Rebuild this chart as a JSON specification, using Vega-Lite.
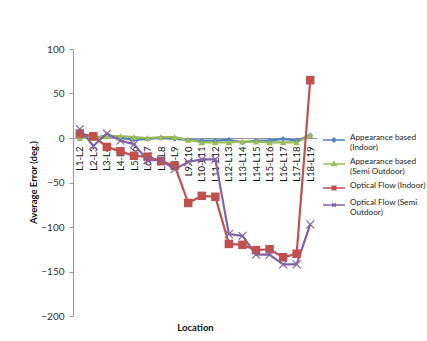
{
  "$schema": "https://vega.github.io/schema/vega-lite/v6.json",
  "autosize": "none",
  "width": 244,
  "height": 267,
  "padding": {"left": 73, "top": 49, "right": 110, "bottom": 25},
  "background": "white",
  "config": {
    "view": {"stroke": null},
    "font": "Lato",
    "axis": {"labelFont": "Lato", "titleFont": "Lato", "labelColor": "#222", "titleColor": "#111"}
  },
  "data": {"values": [
    {"loc":"L1-L2","series":"Appearance based (Indoor)","value":2},
    {"loc":"L2-L3","series":"Appearance based (Indoor)","value":0},
    {"loc":"L3-L4","series":"Appearance based (Indoor)","value":3},
    {"loc":"L4-L5","series":"Appearance based (Indoor)","value":0},
    {"loc":"L5-L6","series":"Appearance based (Indoor)","value":-2},
    {"loc":"L6-L7","series":"Appearance based (Indoor)","value":-1},
    {"loc":"L7-L8","series":"Appearance based (Indoor)","value":0},
    {"loc":"L8-L9","series":"Appearance based (Indoor)","value":-1},
    {"loc":"L9-L10","series":"Appearance based (Indoor)","value":-2},
    {"loc":"L10-L11","series":"Appearance based (Indoor)","value":-3},
    {"loc":"L11-L12","series":"Appearance based (Indoor)","value":-3},
    {"loc":"L12-L13","series":"Appearance based (Indoor)","value":-2},
    {"loc":"L13-L14","series":"Appearance based (Indoor)","value":-5},
    {"loc":"L14-L15","series":"Appearance based (Indoor)","value":-3},
    {"loc":"L15-L16","series":"Appearance based (Indoor)","value":-3},
    {"loc":"L16-L17","series":"Appearance based (Indoor)","value":-1},
    {"loc":"L17-L18","series":"Appearance based (Indoor)","value":-3},
    {"loc":"L18-L19","series":"Appearance based (Indoor)","value":3},
    {"loc":"L1-L2","series":"Appearance based (Semi Outdoor)","value":0},
    {"loc":"L2-L3","series":"Appearance based (Semi Outdoor)","value":0},
    {"loc":"L3-L4","series":"Appearance based (Semi Outdoor)","value":2},
    {"loc":"L4-L5","series":"Appearance based (Semi Outdoor)","value":2},
    {"loc":"L5-L6","series":"Appearance based (Semi Outdoor)","value":1},
    {"loc":"L6-L7","series":"Appearance based (Semi Outdoor)","value":0},
    {"loc":"L7-L8","series":"Appearance based (Semi Outdoor)","value":1},
    {"loc":"L8-L9","series":"Appearance based (Semi Outdoor)","value":1},
    {"loc":"L9-L10","series":"Appearance based (Semi Outdoor)","value":-2},
    {"loc":"L10-L11","series":"Appearance based (Semi Outdoor)","value":-5},
    {"loc":"L11-L12","series":"Appearance based (Semi Outdoor)","value":-5},
    {"loc":"L12-L13","series":"Appearance based (Semi Outdoor)","value":-5},
    {"loc":"L13-L14","series":"Appearance based (Semi Outdoor)","value":-4},
    {"loc":"L14-L15","series":"Appearance based (Semi Outdoor)","value":-4},
    {"loc":"L15-L16","series":"Appearance based (Semi Outdoor)","value":-5},
    {"loc":"L16-L17","series":"Appearance based (Semi Outdoor)","value":-5},
    {"loc":"L17-L18","series":"Appearance based (Semi Outdoor)","value":-5},
    {"loc":"L18-L19","series":"Appearance based (Semi Outdoor)","value":3},
    {"loc":"L1-L2","series":"Optical Flow (Indoor)","value":5},
    {"loc":"L2-L3","series":"Optical Flow (Indoor)","value":2},
    {"loc":"L3-L4","series":"Optical Flow (Indoor)","value":-10},
    {"loc":"L4-L5","series":"Optical Flow (Indoor)","value":-15},
    {"loc":"L5-L6","series":"Optical Flow (Indoor)","value":-20},
    {"loc":"L6-L7","series":"Optical Flow (Indoor)","value":-21},
    {"loc":"L7-L8","series":"Optical Flow (Indoor)","value":-26},
    {"loc":"L8-L9","series":"Optical Flow (Indoor)","value":-31},
    {"loc":"L9-L10","series":"Optical Flow (Indoor)","value":-73},
    {"loc":"L10-L11","series":"Optical Flow (Indoor)","value":-65},
    {"loc":"L11-L12","series":"Optical Flow (Indoor)","value":-66},
    {"loc":"L12-L13","series":"Optical Flow (Indoor)","value":-119},
    {"loc":"L13-L14","series":"Optical Flow (Indoor)","value":-120},
    {"loc":"L14-L15","series":"Optical Flow (Indoor)","value":-126},
    {"loc":"L15-L16","series":"Optical Flow (Indoor)","value":-125},
    {"loc":"L16-L17","series":"Optical Flow (Indoor)","value":-134},
    {"loc":"L17-L18","series":"Optical Flow (Indoor)","value":-130},
    {"loc":"L18-L19","series":"Optical Flow (Indoor)","value":65},
    {"loc":"L1-L2","series":"Optical Flow (Semi Outdoor)","value":10},
    {"loc":"L2-L3","series":"Optical Flow (Semi Outdoor)","value":-9},
    {"loc":"L3-L4","series":"Optical Flow (Semi Outdoor)","value":5},
    {"loc":"L4-L5","series":"Optical Flow (Semi Outdoor)","value":-3},
    {"loc":"L5-L6","series":"Optical Flow (Semi Outdoor)","value":-7},
    {"loc":"L6-L7","series":"Optical Flow (Semi Outdoor)","value":-25},
    {"loc":"L7-L8","series":"Optical Flow (Semi Outdoor)","value":-25},
    {"loc":"L8-L9","series":"Optical Flow (Semi Outdoor)","value":-35},
    {"loc":"L9-L10","series":"Optical Flow (Semi Outdoor)","value":-27},
    {"loc":"L10-L11","series":"Optical Flow (Semi Outdoor)","value":-24},
    {"loc":"L11-L12","series":"Optical Flow (Semi Outdoor)","value":-24},
    {"loc":"L12-L13","series":"Optical Flow (Semi Outdoor)","value":-108},
    {"loc":"L13-L14","series":"Optical Flow (Semi Outdoor)","value":-110},
    {"loc":"L14-L15","series":"Optical Flow (Semi Outdoor)","value":-131},
    {"loc":"L15-L16","series":"Optical Flow (Semi Outdoor)","value":-131},
    {"loc":"L16-L17","series":"Optical Flow (Semi Outdoor)","value":-142},
    {"loc":"L17-L18","series":"Optical Flow (Semi Outdoor)","value":-142},
    {"loc":"L18-L19","series":"Optical Flow (Semi Outdoor)","value":-97}
  ]},
  "encoding": {
    "x": {
      "field": "loc", "type": "nominal", "sort": null,
      "scale": {"paddingInner": 0, "paddingOuter": 0},
      "axis": {
        "orient": "bottom", "offset": -178, "domainColor": "#999", "ticks": false,
        "labelAngle": 270, "labelAlign": "right", "labelBaseline": "middle",
        "labelPadding": 8, "labelFontSize": 9.5, "labelColor": "#111",
        "title": "Location", "titleFontSize": 9.5, "titleFontWeight": "bold",
        "titleBaseline": "middle", "titleY": 189
      }
    },
    "y": {
      "field": "value", "type": "quantitative",
      "scale": {"domain": [-200, 100], "nice": false, "zero": false},
      "axis": {
        "values": [-200, -150, -100, -50, 0, 50, 100], "grid": false,
        "domainColor": "#999", "tickColor": "#999", "tickSize": 4,
        "labelFontSize": 10, "labelPadding": 5, "labelColor": "#333",
        "title": "Average Error (deg.)", "titleFontSize": 9.5, "titleFontWeight": "bold",
        "titleX": -40, "titleY": 133, "titleBaseline": "middle", "titleAlign": "center"
      }
    },
    "color": {
      "field": "series", "type": "nominal",
      "scale": {
        "domain": ["Appearance based (Indoor)", "Appearance based (Semi Outdoor)", "Optical Flow (Indoor)", "Optical Flow (Semi Outdoor)"],
        "range": ["#4F81BD", "#9BBB59", "#C0504D", "#8064A2"]
      },
      "legend": {
        "orient": "none", "legendX": 249, "legendY": 79, "title": null, "padding": 0,
        "symbolSize": 484, "labelFontSize": 8.2, "labelColor": "#222", "labelLimit": 0,
        "labelBaseline": "alphabetic", "labelOffset": 4, "rowPadding": 0,
        "labelExpr": "datum.value == 'Appearance based (Indoor)' ? ['Appearance based', '(Indoor)'] : datum.value == 'Appearance based (Semi Outdoor)' ? ['Appearance based', '(Semi Outdoor)'] : datum.value == 'Optical Flow (Semi Outdoor)' ? ['Optical Flow (Semi', 'Outdoor)'] : datum.value",
        "symbolType": "M-1,0L1,0",
        "symbolStrokeWidth": 1.5,
        "encode": {
          "symbols": {
            "update": {
              "shape": {"signal": "datum.value == 'Appearance based (Indoor)' ? 'M-1,0L1,0M0,-0.18L0.18,0L0,0.18L-0.18,0Z' : datum.value == 'Appearance based (Semi Outdoor)' ? 'M-1,0L1,0M0,-0.2L0.2,0.14L-0.2,0.14Z' : datum.value == 'Optical Flow (Indoor)' ? 'M-1,0L1,0M-0.16,-0.16L0.16,-0.16L0.16,0.16L-0.16,0.16Z' : 'M-1,0L1,0M-0.16,-0.16L0.16,0.16M0.16,-0.16L-0.16,0.16'"},
              "fill": {"scale": "color", "field": "value"},
              "stroke": {"scale": "color", "field": "value"},
              "strokeWidth": {"value": 1.5},
              "opacity": {"value": 1},
              "size": {"value": 484}
            }
          }
        }
      }
    }
  },
  "layer": [
    {
      "mark": {"type": "line", "strokeWidth": 2.2},
      "encoding": {}
    },
    {
      "transform": [{"filter": "datum.series == 'Appearance based (Indoor)'"}],
      "mark": {"type": "point", "filled": true, "opacity": 1, "shape": "diamond", "size": 30},
      "encoding": {}
    },
    {
      "transform": [{"filter": "datum.series == 'Appearance based (Semi Outdoor)'"}],
      "mark": {"type": "point", "filled": true, "opacity": 1, "shape": "triangle-up", "size": 45},
      "encoding": {}
    },
    {
      "transform": [{"filter": "datum.series == 'Optical Flow (Indoor)'"}],
      "mark": {"type": "point", "filled": true, "opacity": 1, "shape": "square", "size": 72},
      "encoding": {}
    },
    {
      "transform": [{"filter": "datum.series == 'Optical Flow (Semi Outdoor)'"}],
      "mark": {"type": "point", "filled": false, "opacity": 1, "shape": "M-1,-1L1,1M1,-1L-1,1", "size": 64, "strokeWidth": 1.2},
      "encoding": {}
    }
  ]
}
